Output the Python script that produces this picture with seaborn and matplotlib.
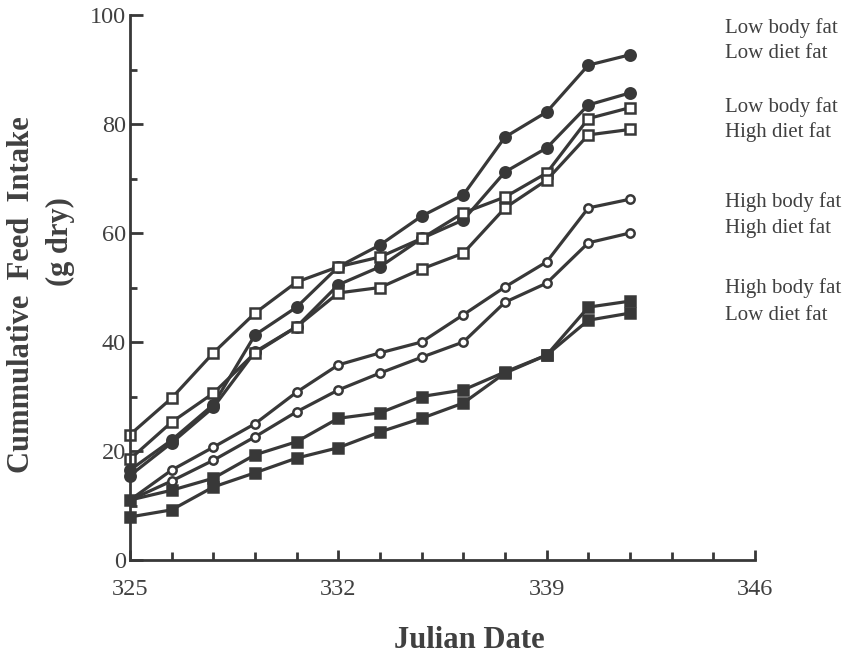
import pandas as pd
import seaborn as sns
import matplotlib.pyplot as plt
from matplotlib.ticker import MultipleLocator

# julian dates of the weighings (every 1.4 days)
days = [325, 326.4, 327.8, 329.2, 330.6, 332, 333.4, 334.8, 336.2, 337.6, 339, 340.4, 341.8]

# low body fat, low diet fat (filled circles)
lblo_1 = [16.5, 22, 28.5, 41.3, 46.4, 53.8, 57.8, 63.1, 67, 77.6, 82.2, 90.8, 92.7]
lblo_2 = [15.5, 21.5, 28, 38.2, 42.8, 50.5, 53.8, 59, 62.4, 71.2, 75.6, 83.5, 85.7]
# low body fat, high diet fat (open squares)
lbhi_1 = [23, 29.7, 38, 45.3, 51, 53.8, 55.6, 59, 63.7, 66.6, 71, 81, 83]
lbhi_2 = [18.5, 25.3, 30.6, 38, 42.8, 49, 50, 53.4, 56.3, 64.6, 69.7, 78, 79]
# high body fat, high diet fat (open circles)
hbhi_1 = [11, 16.5, 20.7, 25, 30.8, 35.8, 38, 40, 45, 50.1, 54.7, 64.6, 66.2]
hbhi_2 = [11, 14.5, 18.3, 22.6, 27.2, 31.2, 34.3, 37.2, 40, 47.3, 50.8, 58.2, 60]
# high body fat, low diet fat (filled squares)
hblo_1 = [11, 12.8, 15, 19.3, 21.7, 26, 27, 30, 31.2, 34.5, 37.6, 46.4, 47.5]
hblo_2 = [7.9, 9.2, 13.4, 16, 18.7, 20.6, 23.5, 26, 28.8, 34.3, 37.6, 44, 45.3]

group_labels = [
    ("Low body fat", "Low diet fat"),
    ("Low body fat", "High diet fat"),
    ("High body fat", "High diet fat"),
    ("High body fat", "Low diet fat"),
]

INK = "#383838"

sns.set_style("ticks")
plt.rcParams["font.family"] = ["Liberation Serif", "DejaVu Serif"]

fig = plt.figure(figsize=(8.49, 6.53), dpi=100)
ax = fig.add_axes([130 / 849, 93 / 653, 625 / 849, 545 / 653])

series = [
    (lblo_1, "o", INK, 7.5),
    (lblo_2, "o", INK, 7.5),
    (lbhi_1, "s", "white", 6.5),
    (lbhi_2, "s", "white", 6.5),
    (hbhi_1, "o", "white", 6),
    (hbhi_2, "o", "white", 6),
    (hblo_1, "s", INK, 7.5),
    (hblo_2, "s", INK, 7.5),
]

for vals, mk, face, ms in series:
    df = pd.DataFrame({"day": days, "intake": vals})
    sns.lineplot(data=df, x="day", y="intake", ax=ax, color=INK, lw=2.3,
                 marker=mk, markersize=ms, markerfacecolor=face,
                 markeredgecolor=INK, markeredgewidth=1.8, clip_on=False)

ax.set_xlim(325, 346)
ax.set_ylim(0, 100)
ax.xaxis.set_major_locator(MultipleLocator(7, offset=325))
ax.xaxis.set_minor_locator(MultipleLocator(1.4, offset=325))
ax.yaxis.set_major_locator(MultipleLocator(20))
ax.yaxis.set_minor_locator(MultipleLocator(10))

sns.despine(ax=ax)
for s in ["left", "bottom"]:
    ax.spines[s].set_linewidth(2)
    ax.spines[s].set_color(INK)

ax.tick_params(axis="both", which="both", direction="in", color=INK, width=2,
               labelsize=17.5, labelcolor="#404040")
ax.tick_params(axis="y", which="major", length=9, pad=3)
ax.tick_params(axis="y", which="minor", length=5)
ax.tick_params(axis="x", which="major", length=7, pad=14)
ax.tick_params(axis="x", which="minor", length=5.5)

ax.set_xlabel("")
ax.set_ylabel("")

# group labels to the right of the line ends
label_y = [(97.6, 93.0), (83.1, 78.5), (65.7, 60.9), (49.9, 44.8)]
for (top, bot), (y1, y2) in zip(group_labels, label_y):
    ax.text(345, y1, top, fontsize=15, color="#404040", va="center", clip_on=False)
    ax.text(345, y2, bot, fontsize=15, color="#404040", va="center", clip_on=False)

fig.text(22 / 849, 1 - 295 / 653, "Cummulative  Feed  Intake", rotation=90,
         fontsize=22, fontweight="bold", color="#404040", ha="center", va="center")
fig.text(60 / 849, 1 - 242 / 653, "(g dry)", rotation=90,
         fontsize=22, fontweight="bold", color="#404040", ha="center", va="center")
fig.text(469 / 849, 1 - 640 / 653, "Julian Date",
         fontsize=22, fontweight="bold", color="#404040", ha="center", va="center")

fig.savefig("out.png", dpi=100)
